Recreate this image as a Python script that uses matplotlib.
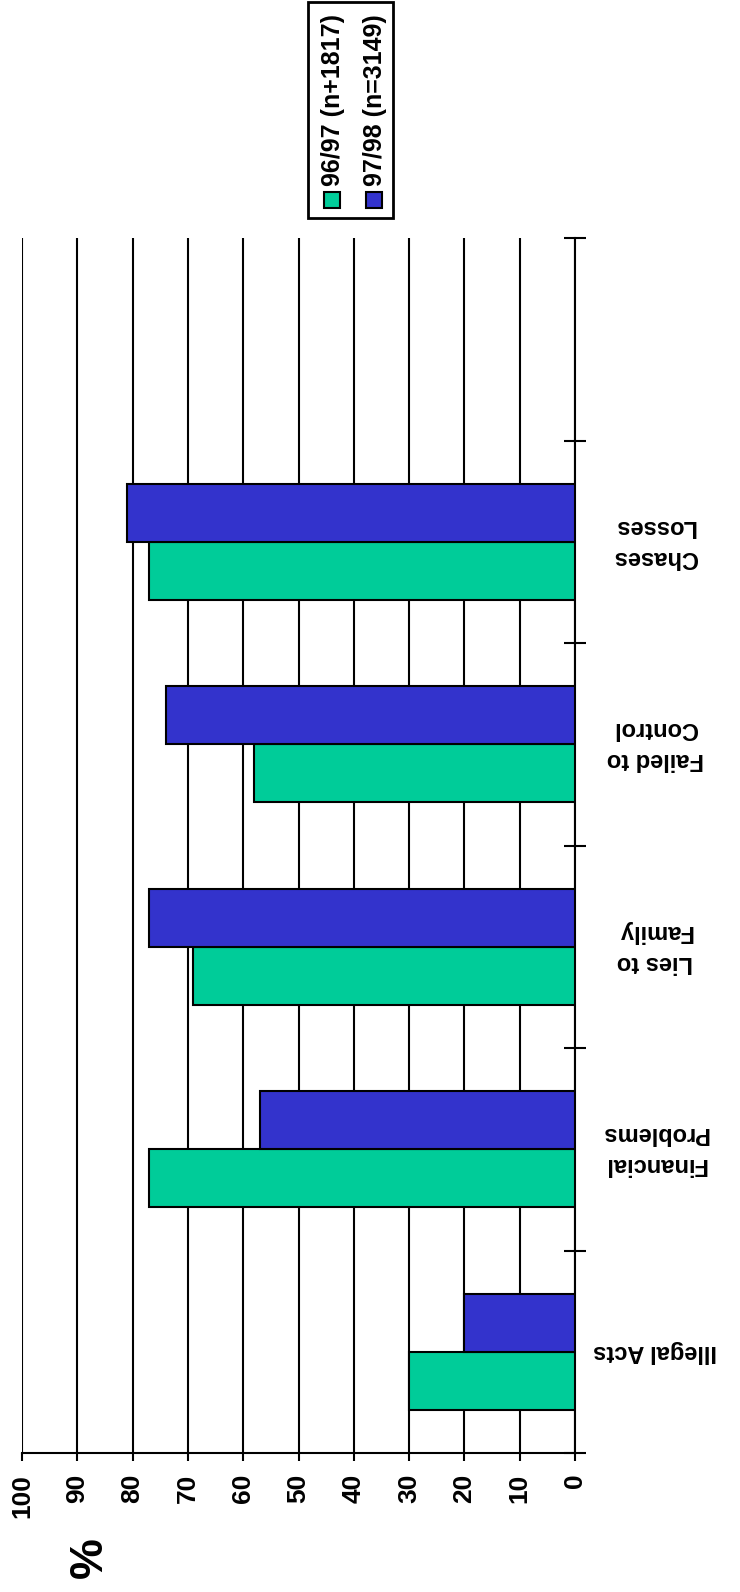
import matplotlib
matplotlib.use("Agg")
import matplotlib.pyplot as plt
from matplotlib.patches import Rectangle
import numpy as np

plt.rcParams['font.family'] = ['Liberation Sans', 'DejaVu Sans']
plt.rcParams['font.weight'] = 'bold'

# survey data: percent of respondents per problem
categories = ['Illegal Acts', 'Financial\nProblems', 'Lies to\nFamily',
              'Failed to\nControl', 'Chases\nLosses']
series_9697 = [30, 77, 69, 58, 77]
series_9798 = [20, 57, 77, 74, 81]
legend_labels = ['96/97 (n+1817)', '97/98 (n=3149)']
value_ticks = [0, 10, 20, 30, 40, 50, 60, 70, 80, 90, 100]

green = '#00CC99'
blue = '#3333CC'

W, H = 740, 1592
fig = plt.figure(figsize=(W / 100, H / 100), dpi=100)

# plot area in pixels: left, right, top, bottom
px_l, px_r, px_t, px_b = 22, 575, 238, 1453
ax = fig.add_axes([px_l / W, 1 - px_b / H, (px_r - px_l) / W, (px_b - px_t) / H])

n_slots = len(categories) + 1
centers = np.arange(len(categories)) + 0.5
bw = 0.2875

ax.barh(centers - bw / 2, series_9697, height=bw, color=green,
        edgecolor='black', linewidth=1.5, zorder=3)
ax.barh(centers + bw / 2, series_9798, height=bw, color=blue,
        edgecolor='black', linewidth=1.5, zorder=3)

ax.set_xlim(100, 0)
ax.set_ylim(0, n_slots)
ax.set_xticks(value_ticks)
ax.set_xticklabels([str(v) for v in value_ticks], rotation=90,
                   fontsize=19, fontweight='bold')
ax.tick_params(axis='x', direction='out', length=6, width=1.5, pad=9)

ax.yaxis.tick_right()
ax.set_yticks(range(n_slots + 1))
ax.set_yticklabels([])
ax.tick_params(axis='y', direction='inout', length=16, width=1.5)

ax.grid(axis='x', color='black', linewidth=1.5)
ax.set_axisbelow(True)
for side in ['left', 'top']:
    ax.spines[side].set_visible(False)
for side in ['right', 'bottom']:
    ax.spines[side].set_linewidth(1.5)

# category names, upside down, beside the bars
lab_x = (655 - px_l) / (px_r - px_l)
for c, name in zip(centers, categories):
    ax.text(lab_x, c, name, transform=ax.get_yaxis_transform(),
            rotation=180, ha='center', va='center', multialignment='center',
            fontsize=17, fontweight='bold', linespacing=1.45)

fig.text(90 / W, 1 - 1558 / H, '%', rotation=90, ha='center', va='center',
         fontsize=33, fontweight='bold')

# legend box drawn by hand so the text can run vertically
fig.patches.append(Rectangle((308 / W, 1 - 218 / H), 85 / W, 216 / H,
                             transform=fig.transFigure, fill=False,
                             edgecolor='black', linewidth=2))
sq = 16
for xc, col, lab in zip([332, 374], [green, blue], legend_labels):
    fig.patches.append(Rectangle(((xc - sq / 2) / W, 1 - (200 + sq / 2) / H),
                                 sq / W, sq / H, transform=fig.transFigure,
                                 facecolor=col, edgecolor='black', linewidth=1.5))
    fig.text((xc + 1) / W, 1 - 186 / H, lab, rotation=90, rotation_mode='anchor',
             ha='left', va='center', fontsize=18, fontweight='bold')

fig.savefig('out.png', dpi=100)
